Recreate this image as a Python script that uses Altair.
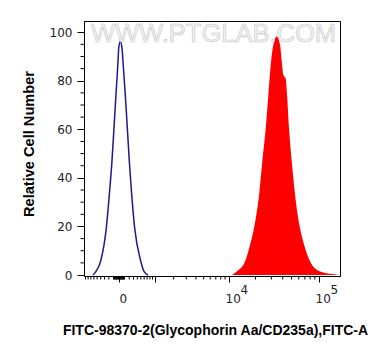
import altair as alt
import pandas as pd

# ---- data (intensity, relative cell number) ----
blue_x = [-629, -534, -399, -257, -189, -132, -92, -54, -17, -5, 23, 54, 72, 117, 159, 202, 257, 330, 495, 596, 731]
blue_y = [0, 1.5, 5.8, 19.3, 33, 46.9, 60.5, 74.2, 88, 93.4, 96.2, 93.4, 88, 74.2, 60.5, 46.9, 33, 19.3, 5.8, 1.5, 0]

red_x = [10750, 12268, 15250, 17360, 19250, 21910, 23840, 26010, 27810, 29790, 31580, 34430,
         37440, 39050, 40690, 43230, 44690, 46990, 50330, 54720, 62030, 68650, 79840, 102600, 149400, 169000]
red_y = [0, 1.5, 5.6, 12.5, 19.3, 33, 46.8, 60.5, 74.2, 88, 94.8, 98.2,
         94.8, 88, 82.4, 80.8, 74.2, 60.5, 46.8, 33, 19.3, 12.5, 5.6, 1.5, 0.3, 0]

x_major_ticks = [0, 1000, 10000, 100000]
x_minor_ticks = ([-v for v in range(10, 100, 10)] + list(range(10, 100, 10)) +
                 [-v for v in range(100, 1000, 100)] + list(range(100, 1000, 100)) +
                 list(range(2000, 10000, 1000)) + list(range(20000, 100000, 10000)))
exponents_at = [10000, 100000]
exponents = ["4", "5"]
y_major_ticks = [0, 20, 40, 60, 80, 100]
y_minor_ticks = [v for v in range(5, 100, 5) if v % 20 != 0]

x_title = "FITC-98370-2(Glycophorin Aa/CD235a),FITC-A"
y_title = "Relative Cell Number"
watermark = "WWW.PTGLAB.COM"

W, H = 256, 255
xscale = alt.Scale(type="symlog", constant=690, domain=[-960, 169000], nice=False, zero=False)
yscale = alt.Scale(domain=[-0.4, 104.6], nice=False, zero=False)

xaxis = alt.Axis(
    values=x_major_ticks, tickSize=6, tickColor="black", domainColor="black",
    labelExpr="datum.value == 0 ? '0' : (datum.value == 10000 || datum.value == 100000) ? '10' : ''",
    labelAlign="left",
    labelOffset={"condition": {"test": "datum.value == 0", "value": 0}, "value": -4},
    labelBaseline="alphabetic", labelPadding=20,
    labelFont="DejaVu Sans", labelFontSize=12, labelColor="#222",
    title=x_title, titleFont="Liberation Sans", titleFontSize=14, titleFontWeight="bold",
    titleColor="black", titleX=131, titleY=58, titleBaseline="alphabetic", titleAlign="center",
    grid=False, labelFlush=False, labelOverlap=False)
yaxis = alt.Axis(
    values=y_major_ticks, tickSize=7, tickColor="black", domainColor="black",
    labelPadding=5, labelFont="DejaVu Sans", labelFontSize=12, labelColor="#222",
    title=y_title, titleFont="Liberation Sans", titleFontSize=14.6, titleFontWeight="bold",
    titleColor="black", titleX=-50.5, titleY=122.5, titleAngle=-90,
    titleBaseline="alphabetic", titleAlign="center", grid=False, labelFlush=False)

X = alt.X("x:Q", scale=xscale, axis=xaxis)
Y = alt.Y("y:Q", scale=yscale, axis=yaxis)

red_df = pd.DataFrame({"x": red_x, "y": red_y})
blue_df = pd.DataFrame({"x": blue_x, "y": blue_y})

area = alt.Chart(red_df).mark_area(color="#ff0000", interpolate="monotone").encode(x=X, y=Y)

line = alt.Chart(blue_df).mark_line(color="#1c1c8a", strokeWidth=1.5, interpolate="monotone").encode(x=X, y=Y)

xminor = alt.Chart(pd.DataFrame({"x": x_minor_ticks})).mark_rule(color="black", strokeWidth=1).encode(
    x=X, y=alt.value(H), y2=alt.value(H + 3.5),
)

yminor = alt.Chart(pd.DataFrame({"y": y_minor_ticks})).mark_rule(color="black", strokeWidth=1).encode(
    y=Y, x=alt.value(-3.5), x2=alt.value(0),
)

exp_text = alt.Chart(pd.DataFrame({"x": exponents_at, "e": exponents})).mark_text(
    align="left", baseline="alphabetic", dx=11.5, font="DejaVu Sans", fontSize=12, color="#222"
).encode(
    x=X, y=alt.value(272.5), text="e:N",
)

wm = alt.Chart(pd.DataFrame({"w": [watermark]})).mark_text(
    align="center", baseline="alphabetic", font="Liberation Sans", fontSize=25.5,
    fill="#f4f4f4", stroke="#c4c4c4", strokeWidth=0.6
).encode(
    x=alt.value(129.5), y=alt.value(21), text="w:N"
)

chart = alt.layer(area, line, xminor, yminor, exp_text, wm).properties(
    width=W, height=H,
    background="white",
    autosize=alt.AutoSizeParams(type="none"),
    padding={"left": 76, "top": 13, "right": 38, "bottom": 72},
).configure_view(stroke="black", strokeWidth=1)

chart.save("out.html", embed_options={"renderer": "svg", "actions": False})
